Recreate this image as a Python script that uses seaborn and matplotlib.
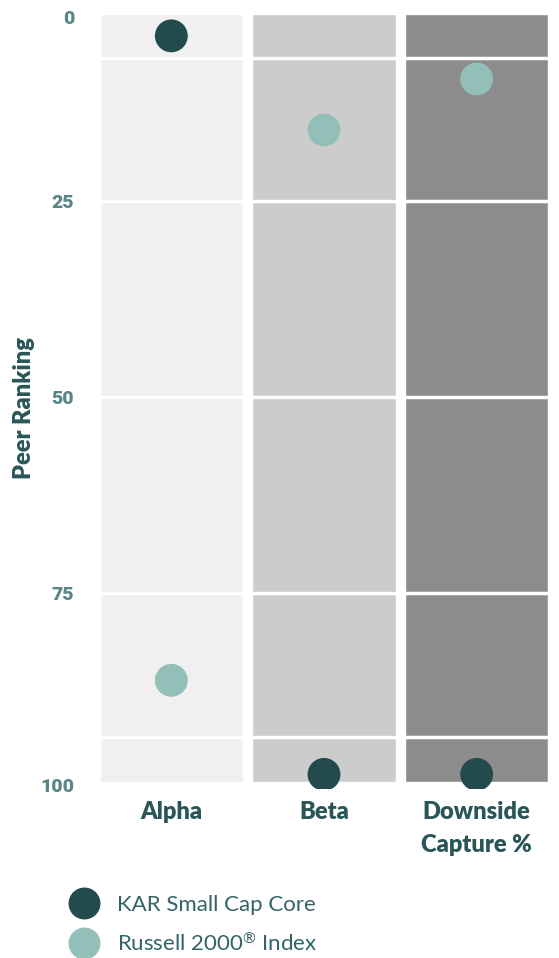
import matplotlib
matplotlib.use("Agg")
import matplotlib.pyplot as plt
import seaborn as sns
import pandas as pd

# ---- data ----
metrics = ["Alpha", "Beta", "Downside\nCapture %"]
kar_rank = [4.0, 98.2, 98.2]
russell_rank = [86.2, 16.0, 9.5]
series_names = ["KAR Small Cap Core", "Russell 2000® Index"]
legend_labels = ["KAR Small Cap Core", "Russell 2000$^{®}$ Index"]
band_lines = [6.8, 25, 50, 75, 93.4]
ytick_pos = [1.6, 25, 50, 75, 99.5]
ytick_labels = ["0", "25", "50", "75", "100"]

df = pd.DataFrame({
    "metric": metrics * 2,
    "rank": kar_rank + russell_rank,
    "series": [series_names[0]] * 3 + [series_names[1]] * 3,
})

sns.set_theme(style="white")
plt.rcParams["font.family"] = ["Lato", "DejaVu Sans"]
plt.rcParams["mathtext.fontset"] = "custom"
plt.rcParams["mathtext.rm"] = "Lato"
plt.rcParams["mathtext.it"] = "Lato"
plt.rcParams["mathtext.default"] = "rm"

col_colors = ["#f0f0f0", "#cccccc", "#8c8c8c"]
dark = "#234b4d"
light = "#93bfb9"

fig = plt.figure(figsize=(5.59, 9.58), dpi=100)
ax = fig.add_axes([95 / 559, 1 - 788.5 / 958, 458 / 559, 784 / 958])

ax.bar(range(3), height=98.0, bottom=1.2, width=0.94, color=col_colors, zorder=0)
for v in band_lines:
    ax.axhline(v, color="white", lw=2.5, zorder=1)

sns.scatterplot(data=df, x="metric", y="rank", hue="series",
                palette=[dark, light], s=560, linewidth=0, ax=ax, zorder=3)

ax.set_xlim(-0.5, 2.5)
ax.set_ylim(100, 0)
for s in ax.spines.values():
    s.set_visible(False)

ax.set_yticks(ytick_pos)
ax.set_yticklabels(ytick_labels, fontsize=14, fontweight="heavy", color="#588686",
                   family=["Roboto", "DejaVu Sans"])
ax.tick_params(axis="y", length=0, pad=15)
ax.set_xticks(range(3))
ax.set_xticklabels(metrics, fontsize=17, fontweight="heavy", color="#2a5658")
plt.setp(ax.get_xticklabels(), linespacing=1.6)
ax.tick_params(axis="x", length=0, pad=9)
ax.set_xlabel("")
ax.set_ylabel("Peer Ranking", fontsize=17, fontweight="heavy", color="#2a5658")
ax.yaxis.set_label_coords(-0.131, 0.485)

sns.move_legend(ax, "upper left", bbox_to_anchor=(51 / 559, 1 - 884 / 958),
                bbox_transform=fig.transFigure, title=None, frameon=False,
                fontsize=16, labelcolor="#336466", handletextpad=0.45,
                labelspacing=0.75, borderpad=0, markerscale=1.0)
leg = ax.get_legend()
for h in leg.legend_handles:
    try:
        h.set_markersize(23)
    except Exception:
        h.set_sizes([530])
for t, lab in zip(leg.get_texts(), legend_labels):
    t.set_text(lab)

fig.savefig("out.png", dpi=100)
